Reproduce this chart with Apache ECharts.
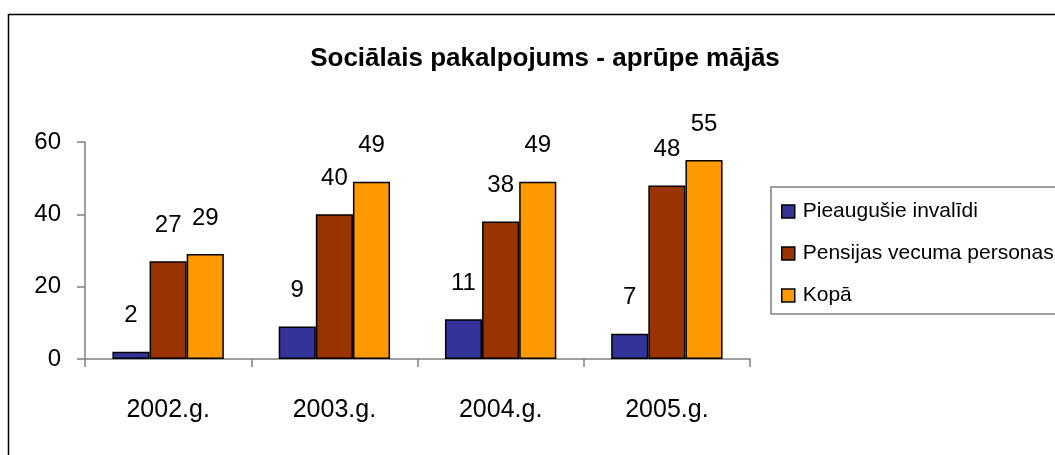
<!DOCTYPE html>
<html>
<head>
<meta charset="utf-8">
<script src="https://cdn.jsdelivr.net/npm/echarts@6/dist/echarts.min.js"></script>
<style>
  html, body { margin: 0; padding: 0; background: #fff; }
  #chart { width: 1055px; height: 455px; }
</style>
</head>
<body>
<div id="chart"></div>
<script>
var years = ['2002.g.', '2003.g.', '2004.g.', '2005.g.']
var invalidi = [2, 9, 11, 7]
var pensijas = [27, 40, 38, 48]
var kopa = [29, 49, 49, 55]
var yTicks = [0, 20, 40, 60]

var font = '"Liberation Sans Narrow", "Arial Narrow", "Liberation Sans", Arial, sans-serif'

var chart = echarts.init(document.getElementById('chart'))

function barSeries (name, data, color) {
  return {
    name: name,
    type: 'bar',
    data: data,
    barGap: '0%',
    barCategoryGap: '33%',
    itemStyle: { color: color, borderColor: '#000', borderWidth: 1.5 },
    label: {
      show: true,
      position: 'top',
      distance: 24,
      color: '#000',
      fontFamily: font,
      fontSize: 24
    }
  }
}

var option = {
  animation: false,
  backgroundColor: '#fff',
  title: {
    text: 'Sociālais pakalpojums - aprūpe mājās',
    left: 540,
    textAlign: 'center',
    top: 41,
    textStyle: { fontFamily: font, fontSize: 26, fontWeight: 'bold', color: '#000' }
  },
  graphic: [
    {
      type: 'rect',
      shape: { x: 8.5, y: 14.5, width: 1100, height: 500 },
      style: { fill: 'none', stroke: '#000', lineWidth: 1.5 },
      silent: true,
      z: -1
    }
  ],
  legend: {
    orient: 'vertical',
    left: 771,
    top: 187,
    padding: [14, 300, 8, 10],
    itemGap: 21,
    itemWidth: 13,
    itemHeight: 13,
    icon: 'rect',
    borderColor: '#808080',
    borderWidth: 1.5,
    textStyle: { fontFamily: font, fontSize: 21, color: '#000', padding: [0, 0, 0, 3] },
    itemStyle: { borderColor: '#000', borderWidth: 1.5 },
    data: ['Pieaugušie invalīdi', 'Pensijas vecuma personas', 'Kopā']
  },
  grid: { left: 85, right: 305, top: 142, bottom: 96 },
  xAxis: {
    type: 'category',
    data: years,
    axisLine: { lineStyle: { color: '#808080', width: 1.5 } },
    axisTick: { show: true, length: 8, lineStyle: { color: '#808080', width: 1.5 } },
    axisLabel: { fontFamily: font, fontSize: 25, color: '#000', margin: 39 }
  },
  yAxis: {
    type: 'value',
    min: yTicks[0],
    max: yTicks[yTicks.length - 1],
    interval: 20,
    splitLine: { show: false },
    axisLine: { show: true, lineStyle: { color: '#808080', width: 1.5 } },
    axisTick: { show: true, length: 8, lineStyle: { color: '#808080', width: 1.5 } },
    axisLabel: { fontFamily: font, fontSize: 24, color: '#000', margin: 24 }
  },
  series: [
    barSeries('Pieaugušie invalīdi', invalidi, '#333399'),
    barSeries('Pensijas vecuma personas', pensijas, '#993300'),
    barSeries('Kopā', kopa, '#FF9900')
  ]
}

chart.setOption(option)
window.addEventListener('resize', function () {
  chart.resize()
})
</script>
</body>
</html>
